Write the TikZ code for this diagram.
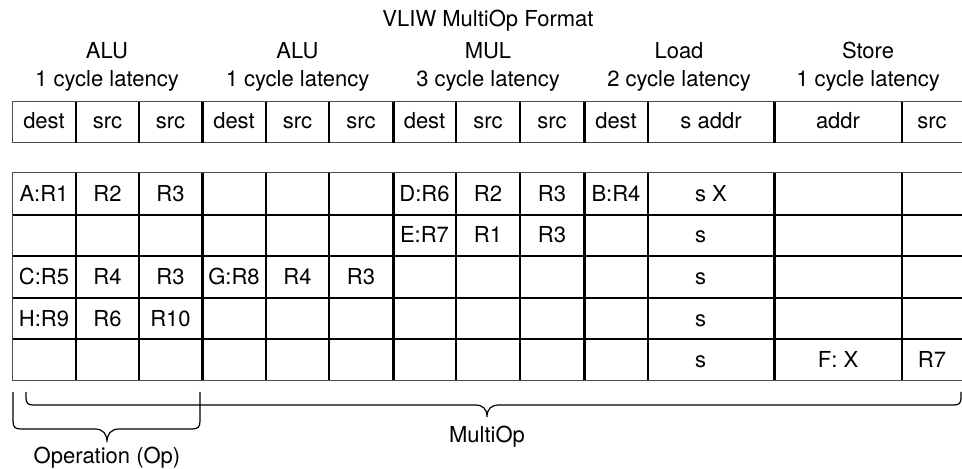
\documentclass[tikz,border=0pt]{standalone}
\usepackage{fontspec}
\setmainfont{TeX Gyre Heros}
\begin{document}
\begin{tikzpicture}[x=0.5pt,y=-0.5pt,
  lbl/.style={anchor=base, inner sep=0pt, font=\fontsize{11}{13}\selectfont},
  frame/.style={line width=0.5pt, draw=black!70},
  cellline/.style={line width=1pt, draw=black},
  groupline/.style={line width=1.5pt, draw=black},
  bracepath/.style={line width=0.6pt, draw=black}]
\useasboundingbox (0,0) rectangle (962,469);

% ---- titles ----
\node[lbl] (title) at (488,27) {VLIW MultiOp Format};
\node[lbl] (u1) at (107,59) {ALU};
\node[lbl] (u2) at (297.5,59) {ALU};
\node[lbl] (u3) at (488,59) {MUL};
\node[lbl] (u4) at (679,59) {Load};
\node[lbl] (u5) at (868,59) {Store};
\node[lbl] (l1) at (107,87) {1 cycle latency};
\node[lbl] (l2) at (297.5,87) {1 cycle latency};
\node[lbl] (l3) at (488,87) {3 cycle latency};
\node[lbl] (l4) at (679,87) {2 cycle latency};
\node[lbl] (l5) at (868,87) {1 cycle latency};

% ---- format row ----
\draw[frame] (962,102) -- (12,102) -- (12,143) -- (962,143);
\foreach \x in {76,139,266,329,456,520,648,902}
  \draw[cellline] (\x,102) -- (\x,143);
\foreach \x in {202,393,584,774}
  \draw[groupline] (\x,102) -- (\x,143);

\foreach \x/\t [count=\i] in {44/dest,107.5/src,170.5/src,234/dest,297.5/src,361/src,
    424.5/dest,488/src,552/src,616/dest,711/s addr,838/addr,932/src}
  \node[lbl] (h\i) at (\x,129) {\t};

% ---- schedule grid ----
\foreach \y in {214.6,256.2,297.8,339.4}
  \draw[cellline] (12,\y) -- (962,\y);
\foreach \x in {76,139,266,329,456,520,648,902}
  \draw[cellline] (\x,173) -- (\x,381);
\foreach \x in {202,393,584,774}
  \draw[groupline] (\x,173) -- (\x,381);
\draw[frame] (962,173) -- (12,173) -- (12,381) -- (962,381);

% row 1
\node[lbl] (a1) at (44,201.3) {A:R1};
\node[lbl] (a2) at (107.5,201.3) {R2};
\node[lbl] (a3) at (170.5,201.3) {R3};
\node[lbl] (a7) at (424.5,201.3) {D:R6};
\node[lbl] (a8) at (488,201.3) {R2};
\node[lbl] (a9) at (552,201.3) {R3};
\node[lbl] (a10) at (616,201.3) {B:R4};
\node[lbl] (a11) at (711,201.3) {s X};
% row 2
\node[lbl] (b7) at (424.5,242.9) {E:R7};
\node[lbl] (b8) at (488,242.9) {R1};
\node[lbl] (b9) at (552,242.9) {R3};
\node[lbl] (b11) at (711,242.9) {s\phantom{ X}};
% row 3
\node[lbl] (c1) at (44,284.5) {C:R5};
\node[lbl] (c2) at (107.5,284.5) {R4};
\node[lbl] (c3) at (170.5,284.5) {R3};
\node[lbl] (c4) at (234,284.5) {G:R8};
\node[lbl] (c5) at (297.5,284.5) {R4};
\node[lbl] (c6) at (361,284.5) {R3};
\node[lbl] (c11) at (711,284.5) {s\phantom{ X}};
% row 4
\node[lbl] (d1) at (44,326.1) {H:R9};
\node[lbl] (d2) at (107.5,326.1) {R6};
\node[lbl] (d3) at (170.5,326.1) {R10};
\node[lbl] (d11) at (711,326.1) {s\phantom{ X}};
% row 5
\node[lbl] (e11) at (711,367.7) {s\phantom{ X}};
\node[lbl] (e12) at (838,367.7) {F: X};
\node[lbl] (e13) at (932,367.7) {R7};

% ---- braces ----
\draw[bracepath] (13,392) -- (13,421) .. controls (13,427) and (15,429) .. (21,429)
  -- (95,429) .. controls (103,429) and (107,434) .. (107,442)
  .. controls (107,434) and (111,429) .. (119,429)
  -- (192,429) .. controls (198,429) and (200,427) .. (200,421) -- (200,392);
\node[lbl] (opname) at (107,463) {Operation (Op)};

\draw[bracepath] (26,392) -- (26,398) .. controls (26,403) and (28,405) .. (33,405)
  -- (475,405) .. controls (483,405) and (487,409) .. (487,417)
  .. controls (487,409) and (491,405) .. (499,405)
  -- (954,405) .. controls (959,405) and (961,403) .. (961,398) -- (961,392);
\node[lbl] (moname) at (487,442) {MultiOp};
\end{tikzpicture}
\end{document}
